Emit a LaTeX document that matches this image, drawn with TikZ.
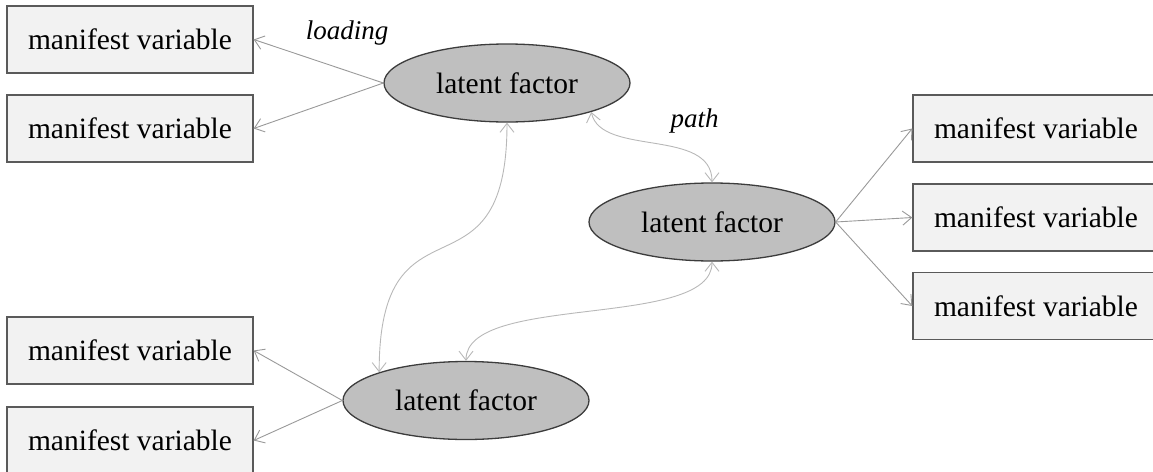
\documentclass[tikz,border=0pt]{standalone}
\usepackage{fontspec}
\setmainfont{Liberation Serif}
\usetikzlibrary{shapes.geometric,arrows.meta}
\definecolor{boxfill}{HTML}{F2F2F2}
\definecolor{boxline}{HTML}{5A5A5A}
\definecolor{latfill}{HTML}{BFBFBF}
\definecolor{latline}{HTML}{3C3C3C}
\definecolor{loadline}{HTML}{999999}
\definecolor{pathline}{HTML}{B8B8B8}
\tikzset{
  manifest/.style={draw=boxline, fill=boxfill, line width=1.4pt, rectangle,
    minimum width=246pt, minimum height=67pt, inner sep=0pt,
    font=\fontsize{29.5}{34}\selectfont},
  latent/.style={draw=latline, fill=latfill, line width=1.3pt, ellipse,
    minimum width=246pt, minimum height=78pt, inner sep=0pt,
    font=\fontsize{29.5}{34}\selectfont},
  loadarrow/.style={draw=loadline, line width=0.9pt,
    -{Straight Barb[length=9pt,width=14pt]}},
  patharrow/.style={draw=pathline, line width=0.9pt,
    {Straight Barb[length=9pt,width=14pt]}-{Straight Barb[length=9pt,width=14pt]}},
  lbl/.style={font=\fontsize{27}{32}\selectfont\itshape, anchor=base, inner sep=0pt}
}
\begin{document}
\begin{tikzpicture}[x=1pt,y=-1pt]
\useasboundingbox (0,0) rectangle (1153,471);
% latent factors
\node[latent] (ltop) at (507,83) {latent factor};
\node[latent] (lright) at (712,222) {latent factor};
\node[latent] (lbot) at (466,400.5) {latent factor};
% manifest variables
\node[manifest] (m1) at (130,39.5) {manifest variable};
\node[manifest] (m2) at (130,128.5) {manifest variable};
\node[manifest] (m3) at (130,350.5) {manifest variable};
\node[manifest] (m4) at (130,440.5) {manifest variable};
\node[manifest] (r1) at (1036,128.5) {manifest variable};
\node[manifest] (r2) at (1036,217.5) {manifest variable};
\node[manifest] (r3) at (1036,306) {manifest variable};
% loadings
\draw[loadarrow] (ltop.west) -- (m1.east);
\draw[loadarrow] (ltop.west) -- (m2.east);
\draw[loadarrow] (lbot.west) -- (m3.east);
\draw[loadarrow] (lbot.west) -- (m4.east);
\draw[loadarrow] (lright.east) -- (r1.west);
\draw[loadarrow] (lright.east) -- (r2.west);
\draw[loadarrow] (lright.east) -- (r3.west);
% paths
\draw[patharrow] (ltop.south) .. controls +(0,188) and +(0,-188) .. (lbot.162);
\draw[patharrow] (ltop.-19) .. controls +(10,45) and +(0,-55) .. (lright.north);
\draw[patharrow] (lright.south) .. controls +(0,68) and +(0,-68) .. (lbot.north);
% labels
\node[lbl] (loadlbl) at (347,39) {loading};
\node[lbl] (pathlbl) at (694.5,127) {path};
\end{tikzpicture}
\end{document}
